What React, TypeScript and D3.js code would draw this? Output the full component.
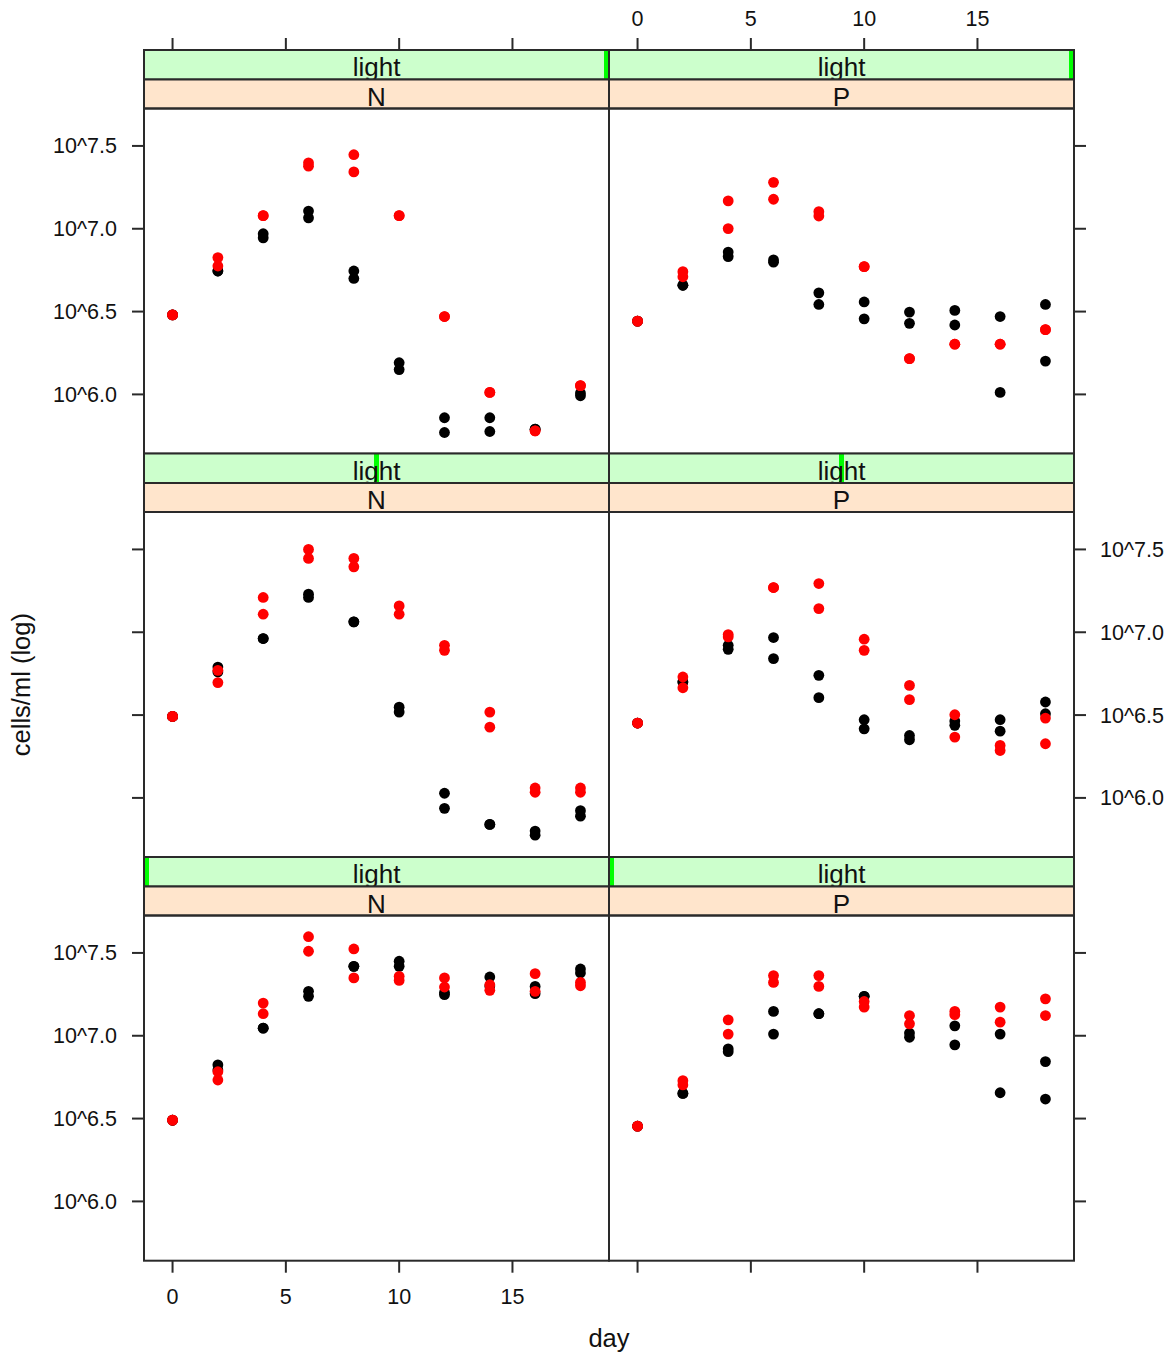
import React from 'react';
import * as d3 from 'd3';

// ---------- data (log10 cells/ml) ----------
const days = [0, 2, 4, 6, 8, 10, 12, 14, 16, 18];
const yTickValues = [6.0, 6.5, 7.0, 7.5];
const yTickLabels = ['10^6.0', '10^6.5', '10^7.0', '10^7.5'];
const xTickValues = [0, 5, 10, 15];
const nutrients = ['N', 'P'];
const lightLabel = 'light';
// relative position of the shingle level marker (top row = highest light)
const lightLevelPos = [1, 0.5, 0];

// top row (high light)
const highN_black = [[6.48, 6.48], [6.745, 6.745], [6.97, 6.945], [7.107, 7.066], [6.745, 6.7], [6.191, 6.15], [5.859, 5.77], [5.859, 5.776], [5.79, 5.79], [6.008, 5.992]];
const highN_red = [[6.48, 6.48], [6.826, 6.775], [7.079, 7.079], [7.398, 7.378], [7.447, 7.343], [7.079, 7.079], [6.47, 6.47], [6.012, 6.012], [5.78, 5.78], [6.053, 6.053]];
const highP_black = [[6.442, 6.442], [6.659, 6.659], [6.859, 6.832], [6.812, 6.798], [6.613, 6.543], [6.558, 6.456], [6.497, 6.429], [6.507, 6.419], [6.47, 6.012], [6.543, 6.201]];
const highP_red = [[6.442, 6.442], [6.741, 6.71], [7.168, 7.001], [7.28, 7.178], [7.103, 7.077], [6.771, 6.771], [6.216, 6.216], [6.303, 6.303], [6.303, 6.303], [6.391, 6.391]];
// middle row (medium light)
const midN_black = [[6.492, 6.492], [6.79, 6.76], [6.962, 6.962], [7.23, 7.21], [7.063, 7.063], [6.548, 6.518], [6.028, 5.937], [5.84, 5.84], [5.8, 5.775], [5.923, 5.89]];
const midN_red = [[6.492, 6.492], [6.77, 6.696], [7.21, 7.109], [7.5, 7.446], [7.446, 7.395], [7.159, 7.109], [6.921, 6.891], [6.518, 6.427], [6.06, 6.034], [6.06, 6.034]];
const midP_black = [[6.452, 6.452], [6.7, 6.7], [6.921, 6.897], [6.968, 6.841], [6.74, 6.605], [6.472, 6.417], [6.377, 6.351], [6.464, 6.438], [6.472, 6.403], [6.579, 6.508]];
const midP_red = [[6.452, 6.452], [6.73, 6.665], [6.986, 6.972], [7.27, 7.27], [7.294, 7.143], [6.958, 6.891], [6.679, 6.593], [6.502, 6.367], [6.317, 6.286], [6.482, 6.327]];
// bottom row (low light)
const lowN_black = [[6.49, 6.49], [6.824, 6.793], [7.046, 7.046], [7.268, 7.238], [7.419, 7.419], [7.45, 7.419], [7.248, 7.26], [7.355, 7.3], [7.298, 7.254], [7.403, 7.379]];
const lowN_red = [[6.491, 6.491], [6.783, 6.733], [7.197, 7.133], [7.598, 7.51], [7.524, 7.349], [7.359, 7.334], [7.349, 7.294], [7.308, 7.274], [7.375, 7.268], [7.322, 7.302]];
const lowP_black = [[6.454, 6.454], [6.652, 6.652], [6.921, 6.904], [7.147, 7.01], [7.133, 7.133], [7.238, 7.238], [7.016, 6.991], [7.06, 6.945], [7.01, 6.656], [6.844, 6.618]];
const lowP_red = [[6.454, 6.454], [6.729, 6.703], [7.096, 7.01], [7.363, 7.322], [7.363, 7.298], [7.207, 7.173], [7.122, 7.072], [7.147, 7.127], [7.173, 7.082], [7.223, 7.122]];

const panelRows = [
  [[highN_black, highN_red], [highP_black, highP_red]],
  [[midN_black, midN_red], [midP_black, midP_red]],
  [[lowN_black, lowN_red], [lowP_black, lowP_red]],
];
const groupColors = ['#000000', '#FF0000'];

// ---------- layout ----------
const W = 1174, H = 1356;
const colLeft = [144, 609];
const panelW = 465;
const rowTop = [50, 453.5, 857];
const greenH = 29.5, peachH = 29;
const stripH = greenH + peachH;
const panelH = 345.2;
const TICK = 12;
const FONT = "'Liberation Sans', Arial, Helvetica, sans-serif";
const LINE = '#2a2a2a';

const allVals = panelRows.flat(3).flat() as number[];
const pad = (lo: number, hi: number) => { const r = hi - lo; return [lo - 0.07 * r, hi + 0.07 * r]; };
const xScale = d3.scaleLinear().domain(pad(d3.min(days)!, d3.max(days)!)).range([0, panelW]);
const yScale = d3.scaleLinear().domain(pad(d3.min(allVals)!, d3.max(allVals)!)).range([panelH, 0]);

function Txt({ x, y, size, anchor = 'middle', rotate = 0, children }: any) {
  return (
    <text transform={`translate(${x},${y}) rotate(${rotate})`} fontSize={size} textAnchor={anchor}
      fontFamily={FONT} fill="#111">{children}</text>
  );
}

export default function App() {
  const elems: any[] = [];
  panelRows.forEach((row, r) => {
    row.forEach((groups, c) => {
      const x0 = colLeft[c];
      const sTop = rowTop[r];
      const pTop = sTop + stripH;
      const key = `${r}-${c}`;
      // strips
      elems.push(<rect key={`g${key}`} x={x0} y={sTop} width={panelW} height={greenH} fill="#CCFFCC" />);
      elems.push(<rect key={`gb${key}`} x={x0 + lightLevelPos[r] * (panelW - 5)} y={sTop} width={5} height={greenH} fill="#00FF00" />);
      elems.push(<Txt key={`gt${key}`} x={x0 + panelW / 2} y={sTop + 26} size={26}>{lightLabel}</Txt>);
      elems.push(<rect key={`gr${key}`} x={x0} y={sTop} width={panelW} height={greenH} fill="none" stroke={LINE} strokeWidth={2} />);
      elems.push(<rect key={`p${key}`} x={x0} y={sTop + greenH} width={panelW} height={peachH} fill="#FFE5CC" stroke={LINE} strokeWidth={2} />);
      elems.push(<Txt key={`pt${key}`} x={x0 + panelW / 2} y={sTop + greenH + 26} size={26}>{nutrients[c]}</Txt>);
      // points
      groups.forEach((g, gi) => {
        g.forEach((reps, di) => {
          reps.forEach((v, ri) => {
            elems.push(<circle key={`pt${key}-${gi}-${di}-${ri}`} cx={x0 + xScale(days[di])} cy={pTop + yScale(v)} r={5.4} fill={groupColors[gi]} />);
          });
        });
      });
      // panel border
      elems.push(<rect key={`b${key}`} x={x0} y={pTop} width={panelW} height={panelH} fill="none" stroke={LINE} strokeWidth={2} />);
      // y ticks
      const showLeftLabels = c === 0 && r !== 1;
      const showRightLabels = c === 1 && r === 1;
      yTickValues.forEach((v, i) => {
        const yy = pTop + yScale(v);
        if (c === 0) {
          elems.push(<line key={`lt${key}-${i}`} x1={x0 - TICK} x2={x0} y1={yy} y2={yy} stroke={LINE} strokeWidth={2} />);
          if (showLeftLabels) elems.push(<Txt key={`ll${key}-${i}`} x={x0 - TICK - 15} y={yy + 7.5} size={21.5} anchor="end">{yTickLabels[i]}</Txt>);
        } else {
          elems.push(<line key={`rt${key}-${i}`} x1={x0 + panelW} x2={x0 + panelW + TICK} y1={yy} y2={yy} stroke={LINE} strokeWidth={2} />);
          if (showRightLabels) elems.push(<Txt key={`rl${key}-${i}`} x={x0 + panelW + TICK + 14} y={yy + 7.5} size={21.5} anchor="start">{yTickLabels[i]}</Txt>);
        }
      });
      // x ticks
      xTickValues.forEach((v, i) => {
        const xx = x0 + xScale(v);
        if (r === 0) {
          elems.push(<line key={`tt${key}-${i}`} x1={xx} x2={xx} y1={sTop - TICK} y2={sTop} stroke={LINE} strokeWidth={2} />);
          if (c === 1) elems.push(<Txt key={`tl${key}-${i}`} x={xx} y={sTop - TICK - 12} size={21.5}>{String(v)}</Txt>);
        }
        if (r === 2) {
          const yb = pTop + panelH;
          elems.push(<line key={`bt${key}-${i}`} x1={xx} x2={xx} y1={yb} y2={yb + TICK} stroke={LINE} strokeWidth={2} />);
          if (c === 0) elems.push(<Txt key={`bl${key}-${i}`} x={xx} y={yb + TICK + 31} size={21.5}>{String(v)}</Txt>);
        }
      });
    });
  });

  return (
    <svg width={W} height={H} style={{ position: 'absolute', left: 0, top: 0, background: '#fff' }}>
      <rect x={0} y={0} width={W} height={H} fill="#fff" />
      {elems}
      <Txt x={colLeft[1]} y={1347} size={25.5}>day</Txt>
      <Txt x={30} y={(rowTop[1] + stripH + rowTop[1] + stripH + panelH) / 2} size={25.5} rotate={-90}>cells/ml (log)</Txt>
    </svg>
  );
}
